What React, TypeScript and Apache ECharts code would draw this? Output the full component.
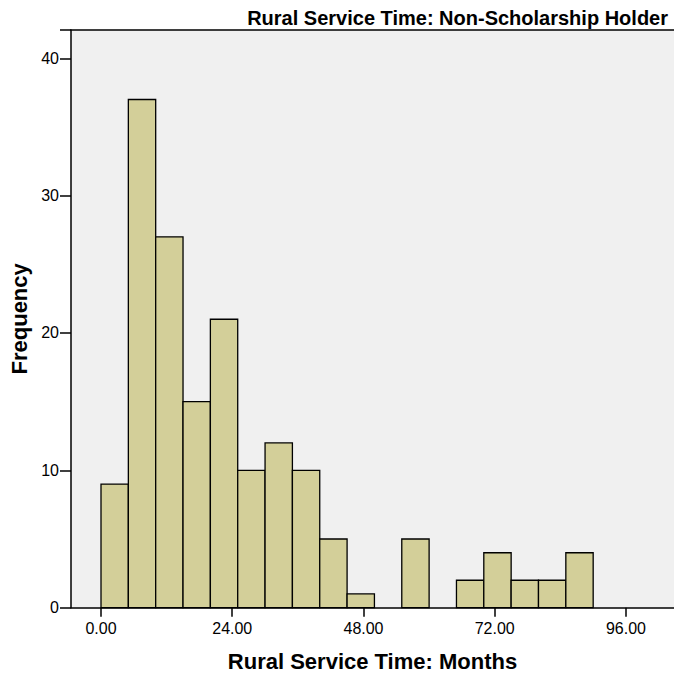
import React, { useEffect, useRef } from "react";
import * as echarts from "echarts";

const binWidth = 5;
const binStarts = [0, 5, 10, 15, 20, 25, 30, 35, 40, 45, 50, 55, 60, 65, 70, 75, 80, 85];
const counts = [9, 37, 27, 15, 21, 10, 12, 10, 5, 1, 0, 5, 0, 2, 4, 2, 2, 4];
const xTicks = [0, 24, 48, 72, 96];
const yTicks = [0, 10, 20, 30, 40];

export default function App() {
  const ref = useRef<HTMLDivElement>(null);
  useEffect(() => {
    const chart = echarts.init(ref.current!, null, { renderer: "svg" });
    const data = binStarts
      .map((s, i) => [s, s + binWidth, counts[i]])
      .filter((d) => d[2] > 0);
    const font = "'Liberation Sans', Arial, sans-serif";
    const xMin = -5.486;
    const xMax = 104.78;
    chart.setOption({
      animation: false,
      backgroundColor: "#ffffff",
      title: {
        text: "Rural Service Time: Non-Scholarship Holder",
        right: 1,
        top: 3,
        textStyle: { fontFamily: font, fontSize: 20, fontWeight: "bold", color: "#000" },
      },
      grid: {
        left: 71,
        top: 30,
        right: 0,
        bottom: 71.3,
        show: true,
        backgroundColor: "#F0F0F0",
        borderWidth: 0,
      },
      xAxis: [
        {
          type: "value",
          min: xMin,
          max: xMax,
          name: "Rural Service Time: Months",
          nameLocation: "middle",
          nameGap: 43,
          nameTextStyle: { fontFamily: font, fontSize: 22, fontWeight: "bold", color: "#000" },
          axisLine: { show: true, onZero: false, lineStyle: { color: "#000", width: 1.5 } },
          axisTick: { show: true, length: 9, lineStyle: { color: "#000", width: 1.5 }, customValues: xTicks },
          axisLabel: {
            customValues: xTicks,
            formatter: (v: number) => v.toFixed(2),
            fontFamily: font,
            fontSize: 16,
            color: "#000",
            margin: 13,
          },
          splitLine: { show: false },
        },
        {
          type: "value",
          position: "top",
          min: xMin,
          max: xMax,
          axisLine: { show: true, onZero: false, lineStyle: { color: "#000", width: 1.5 } },
          axisTick: { show: false },
          axisLabel: { show: false },
          splitLine: { show: false },
        },
      ],
      yAxis: {
        type: "value",
        min: 0,
        max: 42.06,
        interval: 10,
        name: "Frequency",
        nameLocation: "middle",
        nameGap: 38,
        nameRotate: 90,
        nameTextStyle: { fontFamily: font, fontSize: 22, fontWeight: "bold", color: "#000" },
        axisLine: { show: true, onZero: false, lineStyle: { color: "#000", width: 1.5 } },
        axisTick: { show: true, length: 11, lineStyle: { color: "#000", width: 1.5 } },
        axisLabel: {
          fontFamily: font,
          fontSize: 16,
          color: "#000",
          margin: 12,
          customValues: yTicks,
        },
        splitLine: { show: false },
      },
      series: [
        {
          type: "custom",
          xAxisIndex: 0,
          data,
          encode: { x: [0, 1], y: 2 },
          renderItem: (params: any, api: any) => {
            const p0 = api.coord([api.value(0), api.value(2)]);
            const p1 = api.coord([api.value(1), 0]);
            return {
              type: "rect",
              shape: { x: p0[0], y: p0[1], width: p1[0] - p0[0], height: p1[1] - p0[1] },
              style: { fill: "#D3CF99", stroke: "#000", lineWidth: 1.3 },
            };
          },
        },
      ],
    });
    return () => chart.dispose();
  }, []);
  return (
    <div
      ref={ref}
      style={{ position: "absolute", left: 0, top: 0, width: 674, height: 679 }}
    />
  );
}
